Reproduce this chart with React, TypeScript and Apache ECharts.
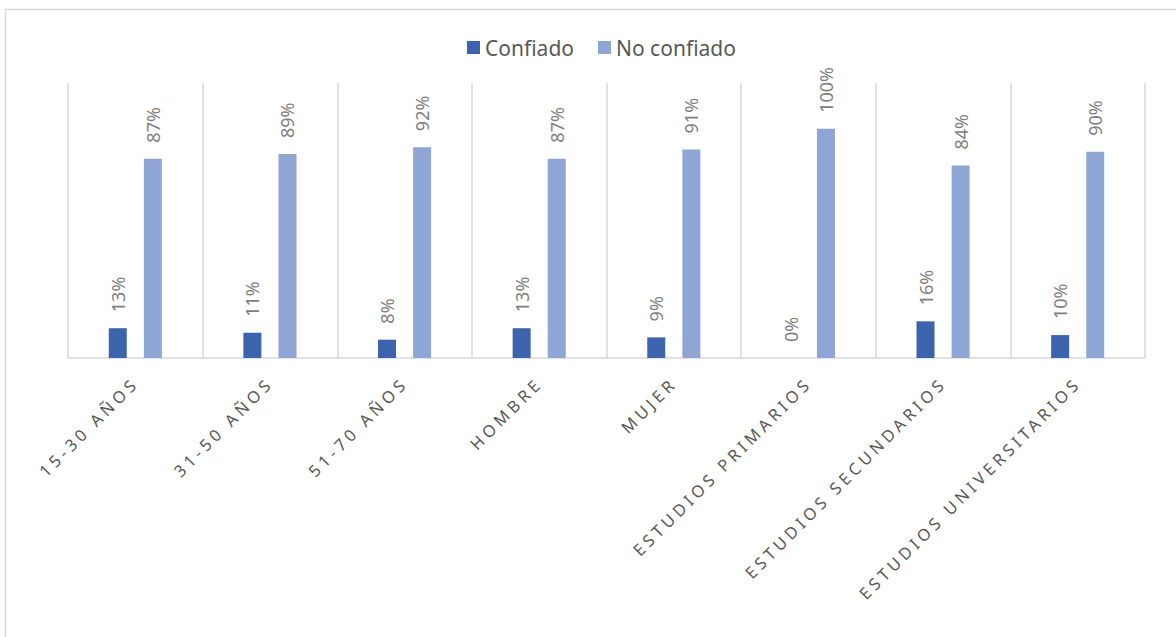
import React, { useEffect, useRef } from "react";
import * as echarts from "echarts";

const categories = [
  "15-30 AÑOS",
  "31-50 AÑOS",
  "51-70 AÑOS",
  "HOMBRE",
  "MUJER",
  "ESTUDIOS PRIMARIOS",
  "ESTUDIOS SECUNDARIOS",
  "ESTUDIOS UNIVERSITARIOS",
];
const confiado = [13, 11, 8, 13, 9, 0, 16, 10];
const noConfiado = [87, 89, 92, 87, 91, 100, 84, 90];
const seriesNames = ["Confiado", "No confiado"];

const FONT = "'Noto Sans', 'Liberation Sans', sans-serif";

export default function App() {
  const ref = useRef<HTMLDivElement>(null);
  useEffect(() => {
    if (!ref.current) return;
    const chart = echarts.init(ref.current, undefined, { renderer: "svg" });
    const label = {
      show: true,
      position: "top",
      rotate: 90,
      align: "left",
      verticalAlign: "middle",
      distance: 16,
      color: "#808080",
      fontSize: 18,
      fontFamily: FONT,
      formatter: "{c}%",
    };
    chart.setOption({
      animation: false,
      graphic: [
        {
          type: "rect",
          shape: { x: 5.5, y: 9.5, width: 1400, height: 900 },
          style: { fill: "none", stroke: "#d9d9d9", lineWidth: 1.5 },
          silent: true,
          z: -10,
        },
      ],
      legend: {
        data: seriesNames,
        left: 462,
        top: 32,
        icon: "rect",
        itemWidth: 13,
        itemHeight: 13,
        itemGap: 24,
        textStyle: { color: "#595959", fontSize: 21, fontFamily: FONT },
      },
      grid: { left: 68, right: 31, top: 83, bottom: 279, containLabel: false },
      xAxis: {
        type: "category",
        data: categories,
        axisLine: { show: true, lineStyle: { color: "#d9d9d9", width: 1.5 } },
        axisTick: { show: false },
        splitLine: { show: true, interval: 0, lineStyle: { color: "#d9d9d9", width: 1.5 } },
        axisLabel: {
          interval: 0,
          rotate: 45,
          margin: 22,
          color: "#595958",
          fontSize: 16.5,
          fontFamily: FONT,
        },
      },
      yAxis: {
        type: "value",
        min: 0,
        max: 120,
        show: false,
        splitLine: { show: false },
      },
      series: [
        {
          name: seriesNames[0],
          type: "bar",
          data: confiado,
          barWidth: 18,
          barGap: "95%",
          itemStyle: { color: "#3b64ad" },
          label,
        },
        {
          name: seriesNames[1],
          type: "bar",
          data: noConfiado,
          barWidth: 18,
          barGap: "95%",
          itemStyle: { color: "#8fa5d6" },
          label,
        },
      ],
    });
    return () => chart.dispose();
  }, []);
  return (
    <>
      <style>{`
        .xchart text[fill="#595958"], .xchart text[style*="16.5px"] { letter-spacing: 4px; }
      `}</style>
      <div
        ref={ref}
        className="xchart"
        style={{ position: "fixed", left: 0, top: 0, width: 1176, height: 637, background: "#fff" }}
      />
    </>
  );
}
